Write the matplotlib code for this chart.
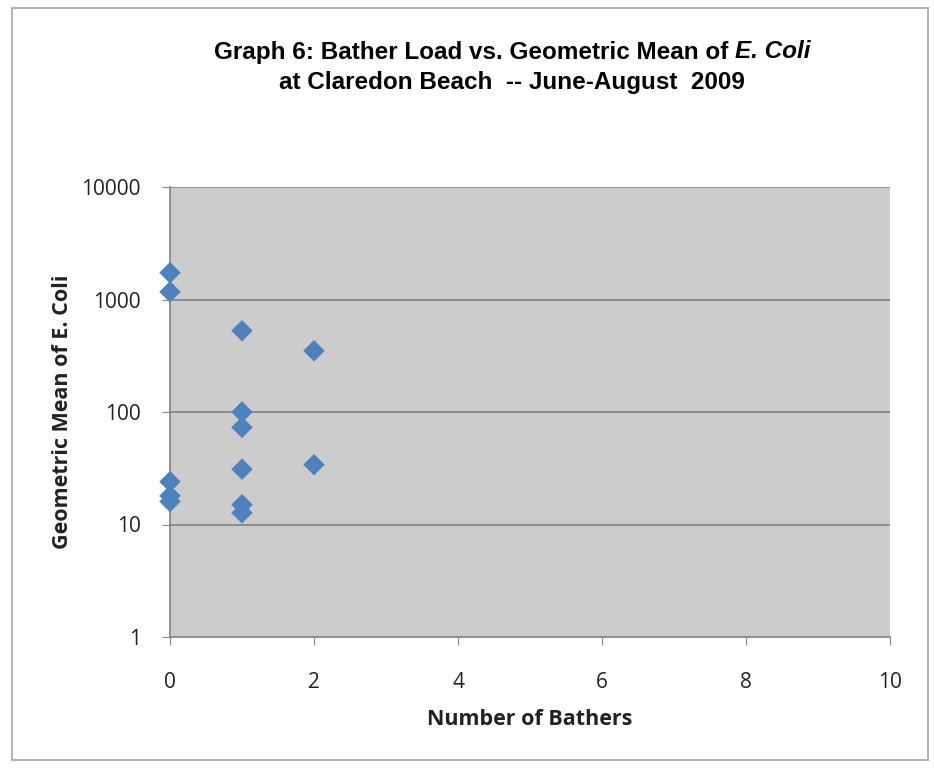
import matplotlib.pyplot as plt
from matplotlib.patches import Rectangle
from matplotlib.ticker import FixedLocator, NullLocator

# Donnees
bathers = [0, 0, 0, 0, 0, 1, 1, 1, 1, 1, 1, 2, 2]
geo_mean = [1730, 1170, 24, 18, 16, 528, 100, 73, 31, 15, 12.7, 350, 34]

x_ticks = [0, 2, 4, 6, 8, 10]
y_ticks = [1, 10, 100, 1000, 10000]

W, H = 934, 770
fig = plt.figure(figsize=(W / 100, H / 100), dpi=100)
fig.patch.set_facecolor('white')

# cadre exterieur
fig.patches.append(Rectangle((12 / W, 1 - 760 / H), 916 / W, 752 / H,
                             transform=fig.transFigure, fill=False,
                             edgecolor='#a6a6a6', linewidth=1.2))

label_font = ['Open Sans', 'DejaVu Sans']

left, right, top, bottom = 170, 890, 187, 637
ax = fig.add_axes([left / W, 1 - bottom / H, (right - left) / W, (bottom - top) / H])
ax.set_facecolor('#cccccc')
ax.set_yscale('log')
ax.set_xlim(0, 10)
ax.set_ylim(1, 10000)

ax.yaxis.set_major_locator(FixedLocator(y_ticks))
ax.yaxis.set_minor_locator(NullLocator())
ax.set_yticklabels([str(v) for v in y_ticks])
ax.set_xticks(x_ticks)
ax.set_xticklabels([str(v) for v in x_ticks])

for v in y_ticks[1:]:
    ax.axhline(v, color='#888888', linewidth=1.3, zorder=1)

for s in ['top', 'right']:
    ax.spines[s].set_visible(False)
for s in ['left', 'bottom']:
    ax.spines[s].set_color('#888888')
    ax.spines[s].set_linewidth(1.3)

ax.tick_params(axis='both', direction='out', length=6, color='#888888',
               labelsize=15, labelcolor='#222222')
ax.tick_params(axis='x', pad=19)
ax.tick_params(axis='y', pad=15)
for lab in ax.get_xticklabels() + ax.get_yticklabels():
    lab.set_fontfamily(label_font)

ax.scatter(bathers, geo_mean, marker='D', s=120, color='#4f81bd',
           edgecolors='none', zorder=3, clip_on=False)

ax.set_xlabel('Number of Bathers', fontsize=15.5, fontweight='bold',
              family=label_font, color='#222222', labelpad=12)
ax.set_ylabel('Geometric Mean of E. Coli', fontsize=15.5, fontweight='bold',
              family=label_font, color='#222222', labelpad=6)

# titre sur deux lignes, "E. Coli" en italique
title_font = ['Liberation Sans', 'DejaVu Sans']
fs_title = 17.5
fig.canvas.draw()
renderer = fig.canvas.get_renderer()
t1 = fig.text(0, 1 - 52 / H, 'Graph 6: Bather Load vs. Geometric Mean of ',
              ha='left', va='center', fontsize=fs_title, fontweight='bold', family=title_font)
t2 = fig.text(0, 1 - 52 / H, 'E. Coli', ha='left', va='center', fontsize=fs_title,
              fontweight='bold', fontstyle='italic', family=title_font)
w1 = t1.get_window_extent(renderer).width
w2 = t2.get_window_extent(renderer).width
x0 = (512 - (w1 + w2) / 2) / W
t1.set_x(x0)
t2.set_x(x0 + w1 / W)
fig.text(512 / W, 1 - 82 / H, 'at Claredon Beach  -- June-August  2009',
         ha='center', va='center', fontsize=fs_title, fontweight='bold', family=title_font)

plt.savefig('out.png', dpi=100)
